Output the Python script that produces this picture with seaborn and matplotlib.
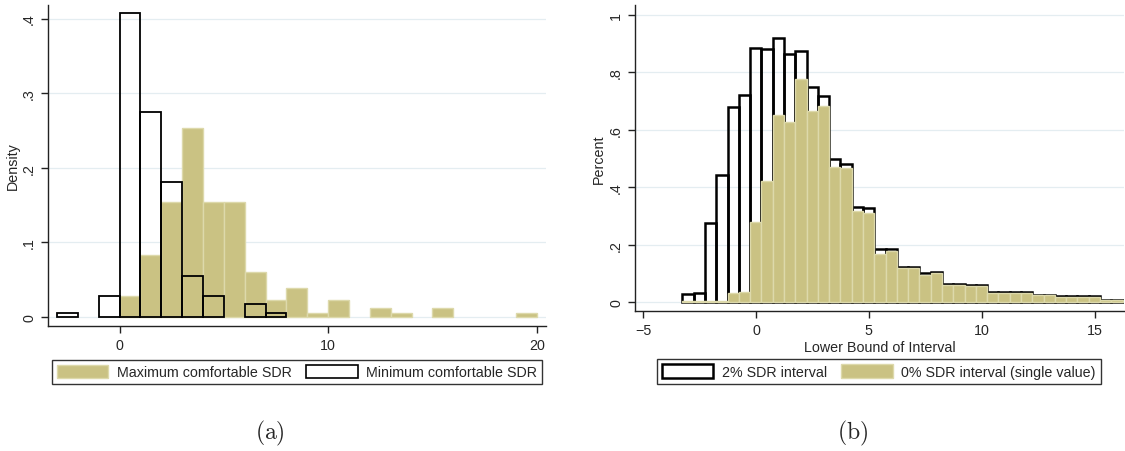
import numpy as np
import matplotlib
matplotlib.use('Agg')
import matplotlib.pyplot as plt
import seaborn as sns
from matplotlib.patches import Patch

sns.set_style('ticks')
plt.rcParams['font.family'] = ['Liberation Sans', 'DejaVu Sans']
plt.rcParams['mathtext.fontset'] = 'cm'

OLIVE = '#cac283'
OLIVE_EDGE = '#ddd9ab'
GRID = '#e4edf1'
FS = 10.3

# ---- panel (a): densities per unit bin ----
max_edges = list(range(0, 21))
max_density = [0.0275, 0.0825, 0.1535, 0.2525, 0.1535, 0.1535, 0.0605, 0.022, 0.0385, 0.0055,
               0.022, 0.0, 0.011, 0.0055, 0.0, 0.011, 0.0, 0.0, 0.0, 0.0055]
min_edges = list(range(-3, 9))
min_density = [0.0055, 0.0, 0.0275, 0.407, 0.275, 0.181, 0.055, 0.0275, 0.0, 0.0165, 0.0055]
a_yticks = [0, 0.1, 0.2, 0.3, 0.4]
a_yticklabels = ['0', '.1', '.2', '.3', '.4']
a_xticks = [0, 10, 20]

# ---- panel (b): percent per half-unit bin ----
b_start, b_width = -3.26, 0.5
int2_pct = [0.029, 0.034, 0.277, 0.444, 0.677, 0.720, 0.885, 0.879, 0.918, 0.863,
            0.874, 0.747, 0.718, 0.498, 0.482, 0.333, 0.328, 0.184, 0.184, 0.124,
            0.124, 0.101, 0.104, 0.064, 0.064, 0.060, 0.060, 0.036, 0.036, 0.036,
            0.036, 0.027, 0.027, 0.022, 0.022, 0.022, 0.022, 0.010, 0.010]
int0_pct = [0.006, 0.006, 0.006, 0.006, 0.031, 0.035, 0.279, 0.423, 0.650, 0.627,
            0.776, 0.665, 0.683, 0.472, 0.467, 0.316, 0.312, 0.167, 0.179, 0.119,
            0.119, 0.095, 0.103, 0.061, 0.061, 0.057, 0.057, 0.034, 0.034, 0.034,
            0.034, 0.025, 0.025, 0.020, 0.020, 0.020, 0.020, 0.008, 0.008]
b_edges = [b_start + b_width * i for i in range(len(int2_pct) + 1)]
b_yticks = [0, 0.2, 0.4, 0.6, 0.8, 1.0]
b_yticklabels = ['0', '.2', '.4', '.6', '.8', '1']
b_xticks = [-5, 0, 5, 10, 15]
b_xticklabels = ['\u22125', '0', '5', '10', '15']


def centers(edges):
    edges = np.asarray(edges, dtype=float)
    return (edges[:-1] + edges[1:]) / 2


def hide_empty_bars(ax):
    # empty bins should leave no trace on the baseline
    for p in ax.patches:
        if p.get_height() == 0:
            p.set_visible(False)


def style_axis(ax, yticks, yticklabels, xticks):
    ax.set_yticks(yticks)
    ax.set_yticklabels(yticklabels, rotation=90, va='center', fontsize=FS)
    ax.set_xticks(xticks)
    ax.tick_params(axis='x', labelsize=FS)
    ax.tick_params(direction='out', length=5, width=1, color='#222222')
    ax.yaxis.grid(True, color=GRID, linewidth=0.9)
    ax.xaxis.grid(False)
    ax.set_axisbelow(True)
    for s in ['top', 'right']:
        ax.spines[s].set_visible(False)
    for s in ['left', 'bottom']:
        ax.spines[s].set_color('#222222')
        ax.spines[s].set_linewidth(1)


fig = plt.figure(figsize=(11.25, 4.52), dpi=100)
ax1 = fig.add_axes([0.0427, 0.2765, 0.4427, 0.71])
ax2 = fig.add_axes([0.5644, 0.3097, 0.4347, 0.677])

# panel (a): filled olive first, black outlines on top
sns.histplot(x=centers(max_edges), weights=np.array(max_density), bins=max_edges,
             stat='count', color=OLIVE, edgecolor=OLIVE_EDGE, linewidth=1, alpha=1, ax=ax1)
sns.histplot(x=centers(min_edges), weights=np.array(min_density), bins=min_edges,
             stat='count', fill=False, element='bars', color='black', linewidth=1.3, ax=ax1)
hide_empty_bars(ax1)
ax1.set_xlim(-3.43, 20.45)
ax1.set_ylim(-0.0126, 0.418)
style_axis(ax1, a_yticks, a_yticklabels, a_xticks)
ax1.set_ylabel('Density', fontsize=FS, labelpad=2)
ax1.set_xlabel('')

# panel (b): black outlines first, filled olive on top
sns.histplot(x=centers(b_edges), weights=np.array(int2_pct), bins=b_edges,
             stat='count', fill=False, element='bars', color='black', linewidth=1.8, ax=ax2)
sns.histplot(x=centers(b_edges), weights=np.array(int0_pct), bins=b_edges,
             stat='count', color=OLIVE, edgecolor=OLIVE_EDGE, linewidth=1, alpha=1, ax=ax2)
hide_empty_bars(ax2)
ax2.set_xlim(-5.36, 16.3)
ax2.set_ylim(-0.030, 1.033)
style_axis(ax2, b_yticks, b_yticklabels, b_xticks)
ax2.set_xticklabels(b_xticklabels)
ax2.set_ylabel('Percent', fontsize=FS, labelpad=2)
ax2.set_xlabel('Lower Bound of Interval', fontsize=FS, labelpad=2)

leg_kw = dict(ncol=2, loc='center', frameon=True, fancybox=False, fontsize=FS,
              handlelength=3.6, handleheight=1.1, columnspacing=1.0, borderpad=0.35,
              handletextpad=0.6, edgecolor='black')
h_max = Patch(facecolor=OLIVE, edgecolor=OLIVE_EDGE)
h_min = Patch(facecolor='white', edgecolor='black', linewidth=1.2)
leg1 = fig.legend([h_max, h_min], ['Maximum comfortable SDR', 'Minimum comfortable SDR'],
                  bbox_to_anchor=(0.264, 0.175), **leg_kw)
h_int2 = Patch(facecolor='white', edgecolor='black', linewidth=1.8)
h_int0 = Patch(facecolor=OLIVE, edgecolor=OLIVE_EDGE)
leg2 = fig.legend([h_int2, h_int0], ['2% SDR interval', '0% SDR interval (single value)'],
                  bbox_to_anchor=(0.781, 0.176), **leg_kw)
for leg in (leg1, leg2):
    leg.get_frame().set_linewidth(1)

fig.text(0.24, 0.04, r'$(\mathrm{a})$', ha='center', va='center', fontsize=17)
fig.text(0.758, 0.04, r'$(\mathrm{b})$', ha='center', va='center', fontsize=17)

fig.savefig('out.png', dpi=100)
